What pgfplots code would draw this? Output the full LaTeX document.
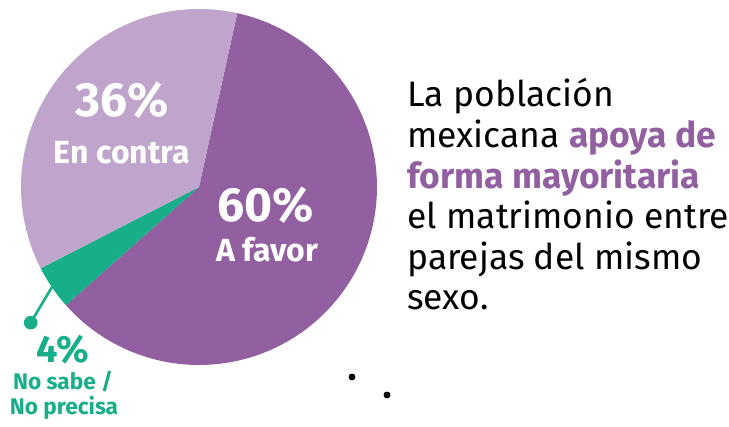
\documentclass[border=0pt]{standalone}
\usepackage{pgfplots}
\pgfplotsset{compat=1.18}
\usepackage{pgfplotstable}
\usepackage{fontspec}
\setmainfont{Fira Sans}
\definecolor{favor}{HTML}{925FA0}
\definecolor{contra}{HTML}{BFA4CB}
\definecolor{nosabe}{HTML}{17AE89}
\pgfplotstableread{
cat value
favor 60
nosabe 4
contra 36
}\piedata
\begin{document}
\begin{tikzpicture}
\pgfplotstablegetelem{0}{value}\of\piedata \let\va\pgfplotsretval
\pgfplotstablegetelem{1}{value}\of\piedata \let\vb\pgfplotsretval
\pgfplotstablegetelem{2}{value}\of\piedata \let\vc\pgfplotsretval
\pgfmathsetmacro\aA{77.6}
\pgfmathsetmacro\aB{\aA-3.6*\va}
\pgfmathsetmacro\aC{\aB-3.6*\vb}
\pgfmathsetmacro\aD{\aC-3.6*\vc}
\begin{axis}[width=364.5pt,height=212pt,scale only axis,
  xmin=0,xmax=729,ymin=0,ymax=424,axis lines=none,clip=false]
\addplot[draw=none] coordinates {(0,0) (729,424)};
\addplot[draw=none,fill=favor,domain=\aB:\aA,samples=120,variable=\t]
  ({199+178*cos(\t)},{237+178*sin(\t)}) -- (199,237) -- cycle;
\addplot[draw=none,fill=nosabe,domain=\aC:\aB,samples=20,variable=\t]
  ({199+178*cos(\t)},{237+178*sin(\t)}) -- (199,237) -- cycle;
\addplot[draw=none,fill=contra,domain=\aD:\aC,samples=100,variable=\t]
  ({199+178*cos(\t)},{237+178*sin(\t)}) -- (199,237) -- cycle;
\addplot[nosabe,line width=1.3pt] coordinates {(52,137) (30.7,101.3)};
\addplot[only marks,mark=*,mark size=3.2pt,nosabe] coordinates {(30.7,101.3)};
\addplot[only marks,mark=*,mark size=1.5pt,black] coordinates {(352,47) (387,29)};
% pie labels
\node[font=\bfseries\fontsize{24}{24}\selectfont,white,anchor=base] at (122,307) {36\%};
\node[font=\bfseries\fontsize{16}{16}\selectfont,white,anchor=base] at (122,260) {En contra};
\node[font=\bfseries\fontsize{24}{24}\selectfont,white,anchor=base] at (266,202) {60\%};
\node[font=\bfseries\fontsize{16}{16}\selectfont,white,anchor=base] at (267,162) {A favor};
\node[font=\bfseries\fontsize{19}{19}\selectfont,nosabe,anchor=base] at (63,61) {4\%};
\node[font=\bfseries\fontsize{11.3}{11}\selectfont,nosabe,anchor=base] at (63,34) {No sabe /};
\node[font=\bfseries\fontsize{11.3}{11}\selectfont,nosabe,anchor=base] at (64,9) {No precisa};
% right text
\begin{scope}[every node/.style={anchor=base west,inner sep=0pt,font=\fontsize{17.7}{20}\selectfont}]
\node at (407,317) {La población};
\node at (407,276.4) {mexicana \textcolor{favor}{\bfseries apoya de}};
\node at (407,235.8) {\textcolor{favor}{\bfseries forma mayoritaria}};
\node at (407,195.2) {el matrimonio entre};
\node at (407,154.6) {parejas del mismo};
\node at (407,114) {sexo.};
\end{scope}
\end{axis}
\end{tikzpicture}
\end{document}
